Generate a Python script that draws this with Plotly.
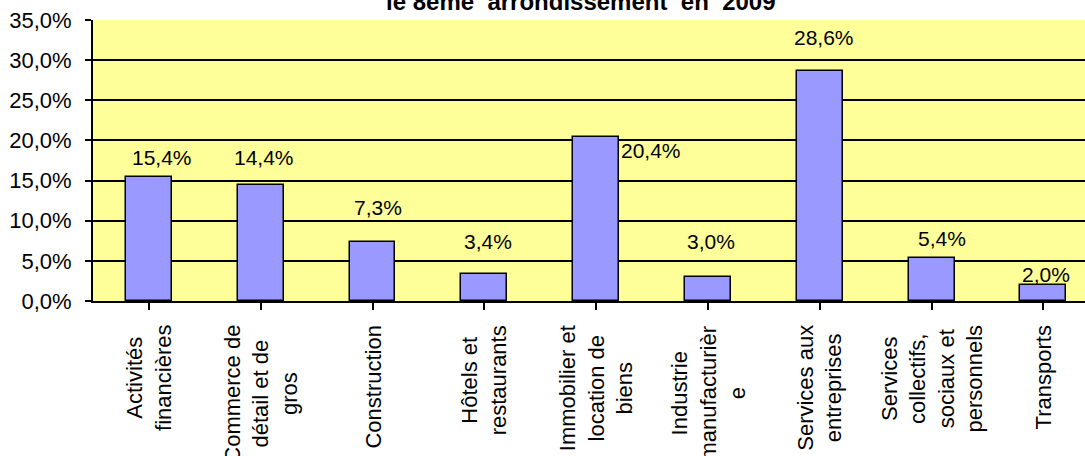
import plotly.graph_objects as go

# secteurs d'activité et part des établissements (en %)
categories = [
    "Activités<br>financières",
    "Commerce de<br>détail et de<br>gros",
    "Construction",
    "Hôtels et<br>restaurants",
    "Immobilier et<br>location de<br>biens",
    "Industrie<br>manufacturièr<br>e",
    "Services aux<br>entreprises",
    "Services<br>collectifs,<br>sociaux et<br>personnels",
    "Transports",
]
values = [15.4, 14.4, 7.3, 3.4, 20.4, 3.0, 28.6, 5.4, 2.0]
y_ticks = [0, 5, 10, 15, 20, 25, 30, 35]

# décalage des étiquettes de valeur (pixels), placées à la main comme dans Excel
label_dx = [13, 3, 5, 4, 55, 3, 4, 10, 3]
label_dy = [20, 28, 35, 32, -13, 35, 34, 19, 10]

FONT = "Liberation Sans, Arial, sans-serif"

fig = go.Figure()
fig.add_trace(go.Bar(
    x=list(range(len(values))),
    y=values,
    width=0.41,
    marker=dict(color="#9999FF", line=dict(color="black", width=1.5)),
    hoverinfo="skip",
))

for i, v in enumerate(values):
    fig.add_annotation(
        x=i, y=v, xref="x", yref="y",
        text=f"{v:.1f}%".replace(".", ","),
        showarrow=False, xshift=label_dx[i], yshift=label_dy[i],
        yanchor="middle", xanchor="center",
        font=dict(family=FONT, size=21, color="black"),
    )

for i, c in enumerate(categories):
    fig.add_annotation(
        x=i, y=0, xref="x", yref="paper",
        text=c, textangle=-90, align="center",
        showarrow=False, xanchor="center", yanchor="top", yshift=-22,
        font=dict(family=FONT, size=22, color="black"),
    )

# titre (coupé en haut dans l'original)
fig.add_annotation(
    x=(581 - 93) / (1085 - 93), xref="paper", y=1, yref="paper",
    text="<b>le 8eme  arrondissement  en  2009</b>",
    showarrow=False, xanchor="center", yanchor="bottom", yshift=3,
    font=dict(family=FONT, size=24, color="black"),
)

fig.update_layout(
    width=1085, height=456,
    margin=dict(l=93, r=0, t=20, b=155),
    paper_bgcolor="white",
    plot_bgcolor="#FFFF99",
    showlegend=False,
    separators=", ",
    font=dict(family=FONT, size=21, color="black"),
    bargap=0,
)
fig.update_xaxes(
    range=[-0.5, 8.372],
    tickmode="array", tickvals=list(range(len(values))),
    showticklabels=False,
    tickson="boundaries", ticks="outside", ticklen=7, tickwidth=1.5, tickcolor="black",
    showline=True, linecolor="black", linewidth=2,
    showgrid=False, zeroline=False,
)
fig.update_yaxes(
    range=[0, 35],
    tickmode="array", tickvals=y_ticks,
    ticktext=[f"{t:.1f}%".replace(".", ",") for t in y_ticks],
    ticks="outside", ticklen=6, tickwidth=1.5, tickcolor="black",
    ticklabelstandoff=9,
    showline=True, linecolor="black", linewidth=2,
    showgrid=True, gridcolor="black", gridwidth=1.5,
    zeroline=False,
    tickfont=dict(family=FONT, size=22, color="black"),
)

fig.write_html(
    "out.html",
    config={"displayModeBar": False},
    post_script="document.body.style.margin = '0';",
)
